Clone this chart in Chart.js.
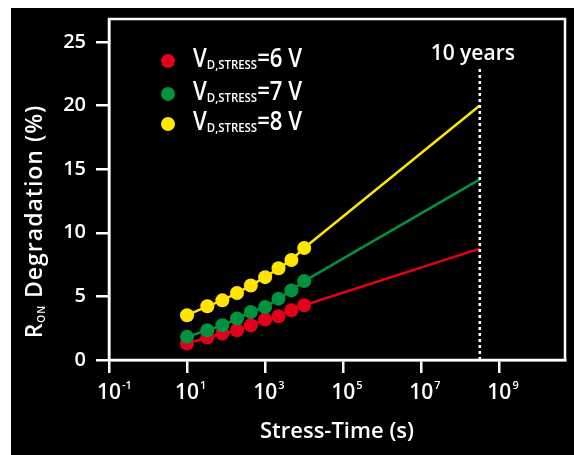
<!DOCTYPE html>
<html><head><meta charset="utf-8">
<script src="https://cdn.jsdelivr.net/npm/chart.js@4.4.1/dist/chart.umd.min.js"></script>
<style>
html,body{margin:0;padding:0;background:#fff;width:574px;height:455px;overflow:hidden}
#wrap{position:absolute;left:11px;top:8px;width:563px;height:447px;background:#000}
canvas{display:block}
</style></head><body>
<div id="wrap"><canvas id="c" width="563" height="447"></canvas></div>
<script>
// ---- data ----
const stressTimes = [10, 33, 80, 190, 430, 1000, 2200, 4700, 10000];
const tenYears = 3.15e8;
const seriesVoltages = ['6 V', '7 V', '8 V'];
const ron6V = [1.30, 1.77, 2.08, 2.34, 2.73, 3.18, 3.44, 3.91, 4.30];
const ron7V = [1.82, 2.34, 2.73, 3.26, 3.77, 4.16, 4.82, 5.47, 6.20];
const ron8V = [3.52, 4.22, 4.69, 5.26, 5.86, 6.51, 7.21, 7.86, 8.80];
const ron10Years = [8.75, 14.2, 20.0];
const xTickValues = [0.1, 10, 1e3, 1e5, 1e7, 1e9];
const xTickExponents = ['-1', '1', '3', '5', '7', '9'];
const yTickValues = [0, 5, 10, 15, 20, 25];
const seriesColors = ['#e2001a', '#00923f', '#ffe500'];

const FF = '"Open Sans", "DejaVu Sans", sans-serif';
const allSeries = [ron6V, ron7V, ron8V];

function makeData(vals, endVal) {
  const pts = stressTimes.map((t, i) => ({ x: t, y: vals[i] }));
  pts.push({ x: tenYears, y: endVal });
  return pts;
}
// yellow first so it is drawn on top, then green, then red
const datasets = [2, 1, 0].map(k => ({
  label: 'V_D,STRESS=' + seriesVoltages[k],
  data: makeData(allSeries[k], ron10Years[k]),
  borderColor: seriesColors[k],
  backgroundColor: seriesColors[k],
  borderWidth: 2.5,
  pointRadius: stressTimes.map(() => 7).concat([0]),
  pointHoverRadius: 7,
  pointBorderWidth: 0,
  tension: 0
}));

function drawRuns(ctx, x, y, runs, align) {
  let total = 0;
  runs.forEach(r => { ctx.font = r.font; total += ctx.measureText(r.text).width * (r.sx || 1); });
  let cx = align === 'center' ? x - total / 2 : (align === 'right' ? x - total : x);
  ctx.textAlign = 'left';
  runs.forEach(r => {
    ctx.font = r.font;
    const sx = r.sx || 1;
    ctx.save();
    ctx.translate(cx, y + (r.dy || 0));
    ctx.scale(sx, 1);
    ctx.fillText(r.text, 0, 0);
    ctx.restore();
    cx += ctx.measureText(r.text).width * sx;
  });
}

const decor = {
  id: 'decor',
  afterDraw(chart) {
    const ctx = chart.ctx, a = chart.chartArea;
    const xs = chart.scales.x, ys = chart.scales.y;
    ctx.save();
    // frame (top + right)
    ctx.strokeStyle = '#fff';
    ctx.lineWidth = 2.5;
    ctx.strokeRect(a.left, a.top, a.right - a.left, a.bottom - a.top);
    // 10 years dotted line
    const xt = xs.getPixelForValue(tenYears);
    const yTop = ys.getPixelForValue(23);
    ctx.setLineDash([3, 3]);
    ctx.lineWidth = 2.5;
    ctx.beginPath();
    ctx.moveTo(xt, a.bottom);
    ctx.lineTo(xt, yTop);
    ctx.stroke();
    ctx.setLineDash([]);
    ctx.fillStyle = '#fff';
    ctx.textBaseline = 'alphabetic';
    drawRuns(ctx, xt - 7, yTop - 7, [{ text: '10 years', font: '600 21px ' + FF }], 'center');

    // y tick labels
    yTickValues.forEach(v => {
      const py = ys.getPixelForValue(v);
      ctx.font = '600 20px ' + FF;
      ctx.textAlign = 'right';
      ctx.textBaseline = 'middle';
      ctx.fillText(String(v), a.left - 23, py);
    });
    // x tick labels: 10^n
    ctx.textBaseline = 'alphabetic';
    xTickValues.forEach((v, i) => {
      const px = xs.getPixelForValue(v);
      ctx.font = '600 21px ' + FF;
      const w = ctx.measureText('10').width;
      ctx.textAlign = 'left';
      ctx.fillText('10', px - w / 2, a.bottom + 39);
      ctx.font = '600 11px ' + FF;
      ctx.fillText(xTickExponents[i], px + w / 2 + 1, a.bottom + 29);
    });
    // x title
    drawRuns(ctx, (a.left + a.right) / 2, a.bottom + 78,
      [{ text: 'Stress-Time (s)', font: '600 22px ' + FF }], 'center');
    // y title (rotated)
    ctx.save();
    ctx.translate(31, (a.top + a.bottom) / 2 + 32);
    ctx.rotate(-Math.PI / 2);
    ctx.letterSpacing = '1px';
    drawRuns(ctx, 0, 0, [
      { text: 'R', font: '600 23px ' + FF },
      { text: 'ON', font: '600 10px ' + FF, dy: 3 },
      { text: ' Degradation (%)', font: '600 23px ' + FF }
    ], 'center');
    ctx.restore();

    // legend
    const rows = [53, 86, 116];
    [0, 1, 2].forEach(k => {
      const cy = rows[k];
      ctx.fillStyle = seriesColors[k];
      ctx.beginPath();
      ctx.arc(157, cy, 7, 0, Math.PI * 2);
      ctx.fill();
      ctx.fillStyle = '#fff';
      drawRuns(ctx, 182, cy + 6, [
        { text: 'V', font: '600 27px ' + FF, sx: 0.82 },
        { text: 'D,STRESS', font: '600 12px ' + FF, dy: 2, sx: 0.95 },
        { text: '=' + seriesVoltages[k], font: '600 27px ' + FF, sx: 0.82 }
      ], 'left');
    });
    ctx.restore();
  }
};

new Chart(document.getElementById('c'), {
  type: 'line',
  data: { datasets },
  options: {
    responsive: false,
    devicePixelRatio: 1,
    animation: false,
    layout: { padding: { top: 11, right: 9, left: 0, bottom: 0 } },
    plugins: { legend: { display: false }, tooltip: { enabled: false } },
    scales: {
      x: {
        type: 'logarithmic',
        min: 0.1,
        max: 4.8e10,
        afterBuildTicks: s => { s.ticks = xTickValues.map(v => ({ value: v })); },
        afterFit: s => { s.height = 95; },
        ticks: { display: false },
        grid: { drawOnChartArea: false, drawTicks: true, tickLength: 13, color: '#fff', lineWidth: 2.5 },
        border: { display: true, color: '#fff', width: 2.5 }
      },
      y: {
        type: 'linear',
        min: 0,
        max: 26.8,
        afterBuildTicks: s => { s.ticks = yTickValues.map(v => ({ value: v })); },
        afterFit: s => { s.width = 98; },
        ticks: { display: false },
        grid: { drawOnChartArea: false, drawTicks: true, tickLength: 13, color: '#fff', lineWidth: 2.5 },
        border: { display: true, color: '#fff', width: 2.5 }
      }
    }
  },
  plugins: [decor]
});
</script>
</body></html>
